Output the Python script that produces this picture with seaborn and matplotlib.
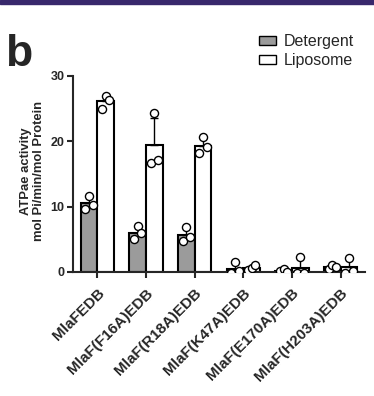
import numpy as np
import pandas as pd
import matplotlib
matplotlib.use("Agg")
import matplotlib.pyplot as plt
from matplotlib.patches import Patch, Rectangle
import seaborn as sns

# data (3 replicates per bar)
constructs = ["MlaFEDB", "MlaF(F16A)EDB", "MlaF(R18A)EDB",
              "MlaF(K47A)EDB", "MlaF(E170A)EDB", "MlaF(H203A)EDB"]
conditions = ["Detergent", "Liposome"]
detergent = [[9.7, 11.7, 10.3],
             [5.0, 7.0, 6.0],
             [4.7, 6.9, 5.4],
             [-0.2, 1.6, 0.1],
             [0.2, 0.4, 0.0],
             [0.5, 1.1, 0.7]]
liposome = [[25.0, 27.0, 26.3],
            [16.7, 24.3, 17.1],
            [18.2, 20.6, 19.1],
            [0.3, 0.6, 1.0],
            [-0.2, 2.3, -0.2],
            [-0.1, 2.1, 0.1]]
colors = {"Detergent": "#9b9b9b", "Liposome": "white"}

rows = []
for cond, vals in zip(conditions, [detergent, liposome]):
    for c, reps in zip(constructs, vals):
        for r, v in enumerate(reps):
            rows.append({"construct": c, "condition": cond, "rep": r, "activity": v})
df = pd.DataFrame(rows)

sns.set_style("ticks")
plt.rcParams["font.family"] = ["Liberation Sans", "DejaVu Sans"]
plt.rcParams["font.weight"] = "bold"

fig = plt.figure(figsize=(3.74, 3.96), dpi=100)
ax = fig.add_axes([73 / 374, 1 - 272 / 396, 292 / 374, 196 / 396])

sns.barplot(data=df, x="construct", y="activity", hue="condition",
            order=constructs, hue_order=conditions, palette=colors,
            errorbar=None, width=0.68, edgecolor="black", linewidth=1.5,
            legend=False, ax=ax)

# upper-only SD error bars + replicate dots, placed on the drawn bars
stats = df.groupby(["condition", "construct"])["activity"].agg(["mean", "std"])
offsets = [-0.075, 0.0, 0.075]
for cond, cont in zip(conditions, ax.containers):
    for c, bar in zip(constructs, cont.patches):
        xc = bar.get_x() + bar.get_width() / 2
        m, s = stats.loc[(cond, c)]
        ax.errorbar(xc, m, yerr=[[0], [s]], fmt="none", ecolor="black",
                    elinewidth=1, capsize=3, capthick=1, zorder=3)
        reps = df[(df.condition == cond) & (df.construct == c)]
        ax.scatter(xc + np.array(offsets), reps["activity"], s=34,
                   facecolor="white", edgecolor="black", linewidth=1, zorder=4)

ax.set_xlim(-0.5, 5.5)
ax.set_ylim(0, 30)
ax.set_yticks([0, 10, 20, 30])
ax.set_xlabel("")
ax.set_ylabel("ATPae activity\nmol Pi/min/mol Protein", fontsize=9.4,
              fontweight="bold", linespacing=1.1)
ax.yaxis.set_label_coords(-0.095, 0.515)
ax.tick_params(axis="y", labelsize=9, width=1.5, length=4, pad=2)
ax.tick_params(axis="x", labelsize=11, width=1.5, length=4, pad=6)
for lab in ax.get_xticklabels():
    lab.set_rotation(45)
    lab.set_ha("right")
    lab.set_rotation_mode("anchor")
    lab.set_fontweight("bold")
for lab in ax.get_yticklabels():
    lab.set_fontweight("bold")
sns.despine(ax=ax)
for sp in ["left", "bottom"]:
    ax.spines[sp].set_linewidth(1.5)

handles = [Patch(facecolor=colors[c], edgecolor="black", linewidth=1, label=c)
           for c in conditions]
fig.legend(handles=handles, loc="upper left", bbox_to_anchor=(253 / 374, 1 - 28 / 396),
           frameon=False, handlelength=1.05, handleheight=0.5,
           handletextpad=0.5, labelspacing=0.25, borderaxespad=0,
           prop={"weight": "normal", "size": 11.5})

fig.text(5 / 374, 1 - 66 / 396, "b", fontsize=32, fontweight="bold", va="baseline")
fig.patches.append(Rectangle((0, 1 - 4 / 396), 1, 4 / 396, transform=fig.transFigure,
                             color="#38286c", zorder=10))

fig.savefig("out.png", dpi=100)
